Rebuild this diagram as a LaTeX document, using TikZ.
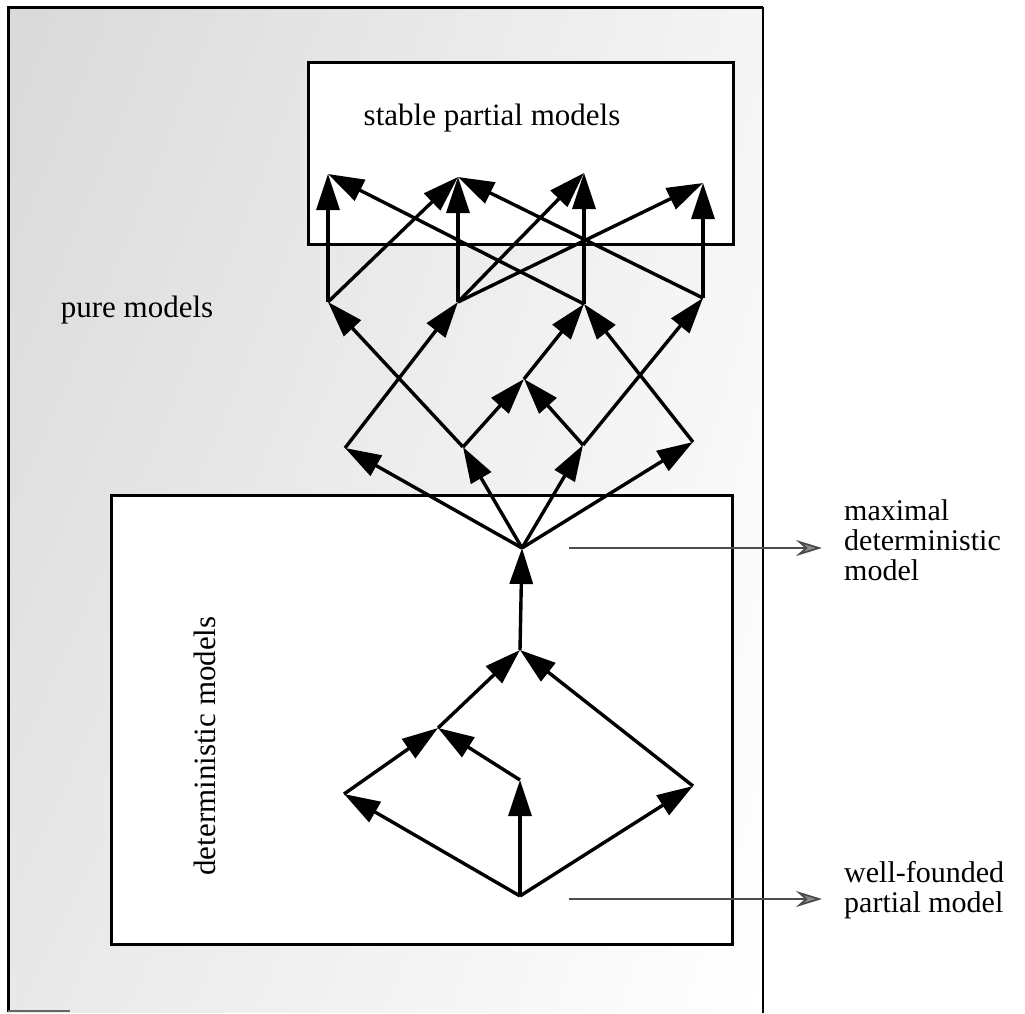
\documentclass[tikz,border=0pt]{standalone}
\usepackage{fontspec}
\setmainfont{Liberation Serif}
\usetikzlibrary{arrows.meta,shadings}
\begin{document}
\begin{tikzpicture}[x=1pt,y=-1pt,
  v/.style={shape=coordinate},
  edge/.style={line width=3.4pt, -{Triangle[length=36pt,width=23pt]}},
  frame/.style={line width=3pt},
  lab/.style={font=\fontsize{31}{31}\selectfont, inner sep=0pt},
  side/.style={font=\fontsize{30}{30}\selectfont, align=left, inner sep=0pt, anchor=west},
  pointer/.style={draw=black!70, line width=1.8pt, -{Stealth[length=26pt,width=16pt,inset=9pt,fill=black!45]}}
]
\useasboundingbox (0,0) rectangle (1025,1013);
% stippled background
\shade[upper left=black!15, upper right=black!4, lower left=black!9, lower right=white] (8,7) rectangle (763,1012);
\fill[white] (308,62) rectangle (733,244);
\fill[white] (111,495) rectangle (732,944);
% frames
\draw[frame] (8,1012) -- (8,7) -- (763,7);
\draw[line width=2.5pt] (763,7) -- (763,1013);
\draw[line width=1.5pt, black!60] (8,1011) -- (70,1011);
\draw[frame] (308,62) rectangle (733,244);
\draw[frame] (111,495) rectangle (732,944);
% texts
\node[lab] (spm) at (492,118) {stable partial models};
\node[lab] (pure) at (137,310) {pure models};
\node[lab, rotate=90] (det) at (205,746) {deterministic models};
\node[side] (maxl) at (844,540) {maximal\\deterministic\\model};
\node[side] (wfl) at (844,890) {well-founded\\partial model};
% graph vertices
\node[v] (T1) at (328,174) {};
\node[v] (T2) at (458,177) {};
\node[v] (T3) at (584,173) {};
\node[v] (T4) at (703,183) {};
\node[v] (P1) at (328,302) {};
\node[v] (P2) at (458,302) {};
\node[v] (P3) at (584,304) {};
\node[v] (P4) at (703,298) {};
\node[v] (Q1) at (345,448) {};
\node[v] (Q2) at (463,447) {};
\node[v] (Q3) at (583,445) {};
\node[v] (Q4) at (693,442) {};
\node[v] (R) at (524,379) {};
\node[v] (M) at (522,548) {};
\node[v] (M2) at (520,650) {};
\node[v] (D) at (438,728) {};
\node[v] (A) at (344,794) {};
\node[v] (B) at (520,780) {};
\node[v] (C) at (693,786) {};
\node[v] (W) at (520,896) {};
% edges
\draw[edge] (P1) -- (T1);
\draw[edge] (P1) -- (T2);
\draw[edge] (P2) -- (T2);
\draw[edge] (P2) -- (T3);
\draw[edge] (P2) -- (T4);
\draw[edge] (P3) -- (T3);
\draw[edge] (P3) -- (T1);
\draw[edge] (P4) -- (T4);
\draw[edge] (P4) -- (T2);
\draw[edge] (Q1) -- (P2);
\draw[edge] (Q2) -- (P1);
\draw[edge] (Q2) -- (R);
\draw[edge] (Q3) -- (R);
\draw[edge] (Q3) -- (P4);
\draw[edge] (R) -- (P3);
\draw[edge] (Q4) -- (P3);
\draw[edge] (M) -- (Q1);
\draw[edge] (M) -- (Q2);
\draw[edge] (M) -- (Q3);
\draw[edge] (M) -- (Q4);
\draw[edge] (M2) -- (M);
\draw[edge] (D) -- (M2);
\draw[edge] (C) -- (M2);
\draw[edge] (A) -- (D);
\draw[edge] (B) -- (D);
\draw[edge] (W) -- (A);
\draw[edge] (W) -- (B);
\draw[edge] (W) -- (C);
% pointers
\coordinate (ms) at (569,548);
\coordinate (me) at (822,548);
\coordinate (ws) at (569,899);
\coordinate (we) at (822,899);
\draw[pointer] (ms) -- (me);
\draw[pointer] (ws) -- (we);
\end{tikzpicture}
\end{document}
